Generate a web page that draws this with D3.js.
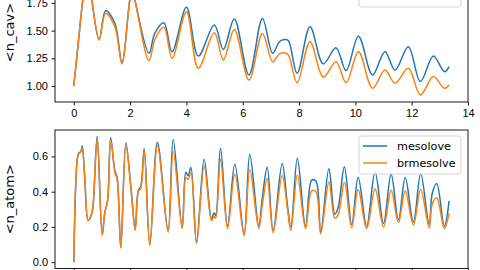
<!DOCTYPE html>
<html>
<head>
<meta charset="utf-8">
<script src="https://cdn.jsdelivr.net/npm/d3@7"></script>
<style>
  body { margin: 0; background: #fff; }
  svg { display: block; font-family: "DejaVu Sans", sans-serif; }
  .axis text { font-size: 11px; fill: #000; }
  .axis line { stroke: #000; stroke-width: 0.9; }
</style>
</head>
<body>
<svg id="chart" width="480" height="270"></svg>
<script>
// time axis (shared by both series in each panel)
const tCav = [0, 0.16, 0.32, 0.40, 0.48, 0.56, 0.64, 0.90, 1.13, 1.46, 1.71, 1.99, 2.08, 2.17,
  2.67, 2.88, 3.20, 3.49, 4.00, 4.42, 4.99, 5.31, 5.70, 6.22, 6.70, 7.06, 7.30, 7.48, 7.62,
  7.93, 8.39, 8.86, 9.31, 9.67, 10.11, 10.61, 11.05, 11.41, 11.88, 12.31, 12.77, 13.16, 13.33];
const cavMesolove = [1.00, 1.39, 1.776, 1.90, 1.97, 1.90, 1.776, 1.415, 1.68, 1.566, 1.21, 1.776, 1.87, 1.776,
  1.295, 1.478, 1.571, 1.31, 1.71, 1.27, 1.55, 1.33, 1.605, 1.10, 1.61, 1.295, 1.40, 1.42, 1.41,
  1.115, 1.535, 1.20, 1.345, 1.14, 1.45, 1.10, 1.31, 1.144, 1.355, 1.04, 1.27, 1.13, 1.174];
const cavBrmesolve = [1.00, 1.39, 1.776, 1.89, 1.96, 1.89, 1.776, 1.42, 1.655, 1.535, 1.20, 1.776, 1.86, 1.776,
  1.228, 1.42, 1.53, 1.25, 1.67, 1.16, 1.48, 1.235, 1.51, 1.054, 1.475, 1.22, 1.29, 1.30, 1.28,
  1.03, 1.40, 1.08, 1.22, 1.03, 1.31, 0.98, 1.145, 1.025, 1.16, 0.92, 1.085, 0.98, 1.01];

const tAtom = [0, 0.13, 0.18, 0.25, 0.30, 0.39, 0.51, 0.63, 0.69, 0.83, 1.01, 1.10, 1.20, 1.31, 1.46,
  1.54, 1.67, 1.85, 2.03, 2.18, 2.29, 2.38, 2.50, 2.70, 2.97, 3.35, 3.53, 3.85, 3.98, 4.06,
  4.16, 4.36, 4.63, 4.89, 4.98, 5.04, 5.21, 5.46, 5.72, 6.05, 6.25, 6.57, 6.69, 6.87, 7.08,
  7.40, 7.59, 7.71, 7.94, 8.23, 8.45, 8.60, 8.77, 9.06, 9.27, 9.39, 9.61, 9.87, 10.10, 10.40,
  10.70, 11.00, 11.27, 11.53, 11.77, 12.06, 12.32, 12.62, 12.73, 12.89, 13.16, 13.33];
const atomMesolove = [0.00, 0.593, 0.62, 0.627, 0.66, 0.48, 0.238, 0.272, 0.33, 0.714, 0.157, 0.28, 0.348, 0.706, 0.518,
  0.48, 0.083, 0.677, 0.423, 0.185, 0.405, 0.43, 0.645, 0.10, 0.68, 0.178, 0.697, 0.197, 0.51, 0.49,
  0.537, 0.112, 0.584, 0.245, 0.28, 0.265, 0.646, 0.206, 0.555, 0.159, 0.613, 0.205, 0.357, 0.538, 0.178,
  0.56, 0.32, 0.197, 0.589, 0.205, 0.465, 0.46, 0.173, 0.53, 0.272, 0.31, 0.542, 0.213, 0.482, 0.205,
  0.512, 0.22, 0.499, 0.24, 0.48, 0.228, 0.50, 0.212, 0.39, 0.447, 0.205, 0.348];
const atomBrmesolve = [0.00, 0.59, 0.615, 0.625, 0.65, 0.48, 0.235, 0.27, 0.33, 0.70, 0.15, 0.28, 0.345, 0.695, 0.51,
  0.47, 0.08, 0.665, 0.42, 0.18, 0.40, 0.42, 0.635, 0.095, 0.66, 0.17, 0.63, 0.19, 0.48, 0.47,
  0.508, 0.105, 0.546, 0.235, 0.26, 0.25, 0.584, 0.19, 0.499, 0.15, 0.525, 0.19, 0.32, 0.475, 0.165,
  0.492, 0.30, 0.18, 0.495, 0.19, 0.405, 0.40, 0.16, 0.455, 0.25, 0.27, 0.453, 0.195, 0.412, 0.19,
  0.415, 0.20, 0.408, 0.225, 0.405, 0.21, 0.413, 0.195, 0.33, 0.365, 0.19, 0.28];

const seriesNames = ["mesolove", "brmesolve"];
const colors = ["#1f77b4", "#ff7f0e"];
const xTicks = [0, 2, 4, 6, 8, 10, 12, 14];
const cavTicks = [1.00, 1.25, 1.50, 1.75, 2.00];
const atomTicks = [0.0, 0.2, 0.4, 0.6];

const svg = d3.select("#chart");
const left = 55, right = 468;

const x = d3.scaleLinear().domain([-0.667, 14.0]).range([left, right]);

const panels = [
  { t: tCav, ys: [cavMesolove, cavBrmesolve], top: -37, bottom: 102,
    domain: [0.856, 2.11], ticks: cavTicks, fmt: d3.format(".2f"), label: "<n_cav>", showX: true },
  { t: tAtom, ys: [atomMesolove, atomBrmesolve], top: 130, bottom: 268.5,
    domain: [-0.036, 0.75], ticks: atomTicks, fmt: d3.format(".1f"), label: "<n_atom>", showX: false },
];

panels.forEach((p) => {
  const y = d3.scaleLinear().domain(p.domain).range([p.bottom, p.top]);
  const g = svg.append("g");

  const line = d3.line()
    .x((d) => x(d[0]))
    .y((d) => y(d[1]))
    .curve(d3.curveCatmullRom.alpha(0.5));

  p.ys.forEach((vals, i) => {
    g.append("path")
      .datum(p.t.map((t, j) => [t, vals[j]]))
      .attr("fill", "none")
      .attr("stroke", colors[i])
      .attr("stroke-width", 1.5)
      .attr("stroke-linejoin", "round")
      .attr("d", line);
  });

  const yAxis = g.append("g")
    .attr("class", "axis")
    .attr("transform", `translate(${left},0)`)
    .call(d3.axisLeft(y).tickValues(p.ticks).tickFormat(p.fmt).tickSize(3.5).tickPadding(3.5));
  yAxis.select(".domain").remove();

  const xAxis = g.append("g")
    .attr("class", "axis")
    .attr("transform", `translate(0,${p.bottom})`)
    .call(d3.axisBottom(x).tickValues(xTicks).tickFormat(d3.format("d")).tickSize(3.5).tickPadding(3.5));
  xAxis.select(".domain").remove();
  if (!p.showX) xAxis.selectAll("text").remove();

  g.append("rect")
    .attr("x", left).attr("y", p.top)
    .attr("width", right - left).attr("height", p.bottom - p.top)
    .attr("fill", "none").attr("stroke", "#000").attr("stroke-width", 0.9);

  g.append("text")
    .attr("transform", `translate(14,${(p.top + p.bottom) / 2}) rotate(-90)`)
    .attr("text-anchor", "middle")
    .attr("font-size", 13)
    .text(p.label);

  // legend, upper right
  const lg = g.append("g").attr("transform", `translate(359,${p.top + 6})`);
  lg.append("rect")
    .attr("width", 102).attr("height", 38).attr("rx", 2.5)
    .attr("fill", "#fff").attr("fill-opacity", 0.8)
    .attr("stroke", "#d0d0d0").attr("stroke-width", 0.9);
  seriesNames.forEach((name, i) => {
    const cy = 10 + i * 17;
    lg.append("line")
      .attr("x1", 4).attr("x2", 28).attr("y1", cy).attr("y2", cy)
      .attr("stroke", colors[i]).attr("stroke-width", 1.5);
    lg.append("text")
      .attr("x", 38).attr("y", cy).attr("dy", "0.36em")
      .attr("font-size", 11.2)
      .text(name);
  });
});
</script>
</body>
</html>
